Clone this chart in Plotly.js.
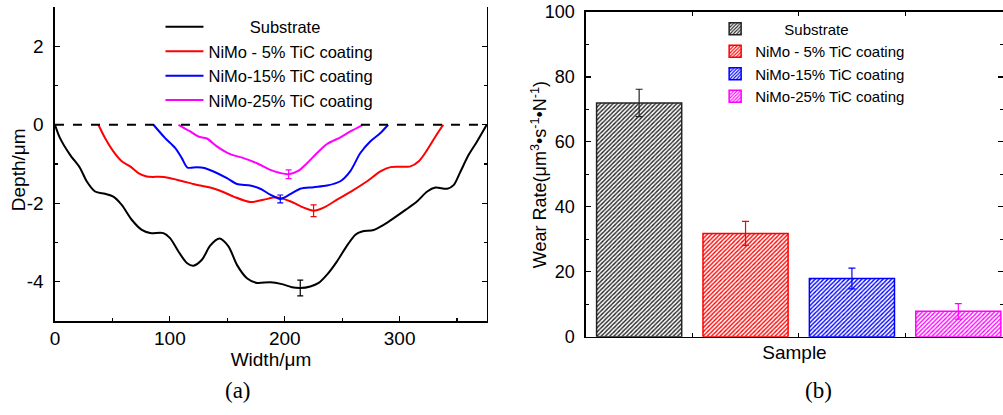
<!DOCTYPE html>
<html>
<head>
<meta charset="utf-8">
<script src="https://cdn.plot.ly/plotly-3.0.1.min.js"></script>
<style>
  html, body { margin: 0; padding: 0; background: #fff; overflow: hidden; }
  #chart { width: 1003px; height: 415px; }
</style>
</head>
<body>
<div id="chart"></div>
<script>
// ---------- (a) depth profiles ----------
const seriesNames = ['Substrate', 'NiMo - 5% TiC coating', 'NiMo-15% TiC coating', 'NiMo-25% TiC coating'];
const seriesColors = ['#000000', '#ff0000', '#0000ff', '#ff00ff'];

const substrateX = [0, 4.4, 13, 21.8, 27.6, 34.9, 43.6, 50.8, 58.1, 66.8, 75.6, 82.8, 94.4, 100.2, 107.5, 114.8, 120.5, 127.9, 135.1, 143.2, 151, 158.4, 167.1, 175.8, 187.4, 197.6, 206.3, 213.5, 222.3, 229.5, 236.8, 245.5, 254.2, 261.5, 267.3, 277.4, 286.1, 294.9, 305.1, 315.3, 324, 331.2, 341.4, 347.2, 353, 360.2, 367.5, 373.3, 375.7];
const substrateY = [0, -0.34, -0.76, -1.10, -1.44, -1.70, -1.76, -1.83, -2.04, -2.42, -2.68, -2.76, -2.76, -2.89, -3.23, -3.52, -3.59, -3.44, -3.08, -2.90, -3.10, -3.57, -3.91, -4.03, -4.01, -4.06, -4.14, -4.16, -4.12, -4.03, -3.82, -3.48, -3.08, -2.80, -2.72, -2.68, -2.55, -2.38, -2.17, -1.95, -1.70, -1.60, -1.63, -1.53, -1.19, -0.76, -0.42, -0.13, 0];

const tic5X = [37.8, 43.6, 50.8, 58.1, 65.4, 72.6, 79.9, 94.4, 106.1, 120.5, 126.4, 135.1, 143.8, 155.4, 170, 181.6, 193.2, 204.8, 216.4, 225.1, 233.9, 245.5, 260, 271.7, 283.3, 292, 309.4, 316.7, 324, 331.2, 337.9];
const tic5Y = [0, -0.34, -0.68, -0.93, -1.06, -1.23, -1.32, -1.33, -1.40, -1.51, -1.55, -1.60, -1.68, -1.83, -1.97, -1.91, -1.85, -1.95, -2.11, -2.19, -2.11, -1.91, -1.66, -1.44, -1.19, -1.08, -1.06, -0.93, -0.64, -0.30, 0];

const tic15X = [85.7, 95.9, 104.6, 110.4, 115.3, 123.5, 130, 138, 149.7, 158.4, 170, 178.7, 187.4, 196.1, 204.8, 213.5, 225.1, 236.8, 248.4, 257.1, 265.8, 274.6, 283.3, 290];
const tic15Y = [0, -0.34, -0.59, -0.85, -1.09, -1.08, -1.10, -1.19, -1.36, -1.51, -1.55, -1.63, -1.78, -1.89, -1.77, -1.63, -1.59, -1.55, -1.44, -1.18, -0.72, -0.42, -0.21, 0];

const tic25X = [107.5, 117.7, 124.9, 132.2, 140.9, 152.5, 164.1, 175.8, 187.4, 196.1, 203.4, 212.1, 219.4, 228.1, 236.8, 248.4, 257.1, 268];
const tic25Y = [0, -0.17, -0.30, -0.35, -0.55, -0.75, -0.85, -0.98, -1.15, -1.23, -1.26, -1.17, -0.98, -0.72, -0.49, -0.32, -0.17, 0];

// error bars on the profiles (one per curve)
const profErrX = [213.5, 225.1, 196.1, 203.4];
const profErrY = [-4.16, -2.19, -1.89, -1.26];
const profErrVal = [0.2, 0.15, 0.1, 0.11];

const depthTickVals = [-4, -2, 0, 2];
const depthTickText = ['-4', '-2', '0', '2'];
const zeroLevel = 0;

// ---------- (b) wear rate ----------
const samples = ['Substrate', 'NiMo - 5% TiC coating', 'NiMo-15% TiC coating', 'NiMo-25% TiC coating'];
const wearRate = [72.0, 31.8, 17.9, 7.8];
const wearErr = [4.2, 3.7, 3.2, 2.4];
const barColors = ['#222222', '#ff0000', '#0000ff', '#ff00ff'];

const FONT = 'Liberation Sans, Arial, sans-serif';
const profX = [substrateX, tic5X, tic15X, tic25X];
const profY = [substrateY, tic5Y, tic15Y, tic25Y];
const legendPad = ['\u00a0\u00a0\u00a0\u00a0\u00a0\u00a0\u00a0\u00a0\u00a0', '', '', ''];
const legendPad2 = ['\u00a0\u00a0\u00a0\u00a0\u00a0\u00a0\u00a0', '', '', ''];

const traces = [];
for (let i = 0; i < 4; i++) {
  traces.push({
    type: 'scatter', mode: 'lines', x: profX[i], y: profY[i],
    name: legendPad[i] + seriesNames[i],
    line: { color: seriesColors[i], width: 2, shape: 'spline', smoothing: 0.8 },
    xaxis: 'x', yaxis: 'y', legend: 'legend', hoverinfo: 'skip'
  });
}
for (let i = 0; i < 4; i++) {
  traces.push({
    type: 'scatter', mode: 'markers', x: [profErrX[i]], y: [profErrY[i]],
    marker: { size: 1, color: seriesColors[i], opacity: 0 },
    error_y: { type: 'data', array: [profErrVal[i]], color: seriesColors[i], thickness: 1.2, width: 3 },
    showlegend: false, xaxis: 'x', yaxis: 'y', hoverinfo: 'skip'
  });
}
for (let i = 0; i < 4; i++) {
  traces.push({
    type: 'bar', x: [samples[i]], y: [wearRate[i]], width: 0.8,
    name: legendPad2[i] + samples[i],
    marker: {
      color: '#ffffff',
      line: { color: barColors[i], width: 1.5 },
      pattern: { shape: '/', fgcolor: barColors[i], bgcolor: '#ffffff', size: 3, solidity: 0.45, fillmode: 'replace' }
    },
    error_y: { type: 'data', array: [wearErr[i]], color: barColors[i], thickness: 1.2, width: 3.5 },
    xaxis: 'x2', yaxis: 'y2', legend: 'legend2', hoverinfo: 'skip'
  });
}

const axCommon = {
  showline: true, linecolor: '#000', linewidth: 1.5, showgrid: false, zeroline: false,
  ticks: 'inside', ticklen: 5, tickwidth: 1.2, tickcolor: '#000',
  tickfont: { family: FONT, size: 19, color: '#000' }
};

const layout = {
  width: 1003, height: 415,
  margin: { l: 0, r: 0, t: 0, b: 0, pad: 0 },
  paper_bgcolor: '#fff', plot_bgcolor: 'rgba(0,0,0,0)',
  font: { family: FONT, color: '#000' },
  barmode: 'overlay',
  showlegend: true,
  xaxis: Object.assign({}, axCommon, {
    domain: [0.0548, 0.4855], range: [0, 376], anchor: 'y',
    tick0: 0, dtick: 100, mirror: false, ticklabelstandoff: 0,
    minor: { ticks: 'inside', ticklen: 3, dtick: 50, tickcolor: '#000', showgrid: false },
    title: { text: 'Width/μm', font: { family: FONT, size: 19 }, standoff: 0 }
  }),
  yaxis: Object.assign({}, axCommon, {
    domain: [0.2265, 0.9831], range: [-5, 3], anchor: 'x',
    tickmode: 'array', tickvals: depthTickVals, ticktext: depthTickText,
    mirror: 'ticks', ticklabelstandoff: 6,
    minor: { ticks: 'inside', ticklen: 3, dtick: 1, tickcolor: '#000', showgrid: false }
  }),
  xaxis2: Object.assign({}, axCommon, {
    domain: [0.5842, 1.0], range: [-0.5, 3.42], anchor: 'y2', type: 'category',
    showticklabels: false, tickson: 'boundaries', mirror: 'ticks', ticklen: 4,
    title: { text: 'Sample', font: { family: FONT, size: 19 }, standoff: 8 }
  }),
  yaxis2: Object.assign({}, axCommon, {
    domain: [0.1887, 0.9711], range: [0, 100], anchor: 'x2',
    tick0: 0, dtick: 20, mirror: 'ticks', ticklabelstandoff: 6, tickfont: { family: FONT, size: 18, color: '#000' },
    minor: { ticks: 'inside', ticklen: 3, dtick: 10, tickcolor: '#000', showgrid: false }
  }),
  legend: {
    x: 0.160, y: 0.977, xanchor: 'left', yanchor: 'top',
    bgcolor: 'rgba(0,0,0,0)', borderwidth: 0,
    font: { family: FONT, size: 16.5, color: '#000' }, itemwidth: 38, tracegroupgap: 0
  },
  legend2: {
    x: 0.713, y: 0.970, xanchor: 'left', yanchor: 'top',
    bgcolor: 'rgba(0,0,0,0)', borderwidth: 0,
    font: { family: FONT, size: 15, color: '#000' }, tracegroupgap: 0
  },
  shapes: [{
    type: 'line', xref: 'x domain', yref: 'y', x0: 0, x1: 1, y0: zeroLevel, y1: zeroLevel,
    line: { color: '#000', width: 2, dash: 'dash' }
  }],
  annotations: [
    { text: 'Depth/μm', xref: 'paper', yref: 'paper',
      x: 0.018, y: 0.59, xanchor: 'center', yanchor: 'middle', textangle: -90, showarrow: false,
      font: { family: FONT, size: 19, color: '#000' } },
    { text: 'Wear Rate(μm<sup>3</sup>•s<sup>-1</sup>•N<sup>-1</sup>)', xref: 'paper', yref: 'paper',
      x: 0.5374, y: 0.578, xanchor: 'center', yanchor: 'middle', textangle: -90, showarrow: false,
      font: { family: FONT, size: 18, color: '#000' } },
    { text: '(a)', xref: 'paper', yref: 'paper', x: 0.2368, y: 0.0586, xanchor: 'center', yanchor: 'middle', showarrow: false,
      font: { family: 'Liberation Serif, Times New Roman, serif', size: 23, color: '#000' } },
    { text: '(b)', xref: 'paper', yref: 'paper', x: 0.8156, y: 0.0586, xanchor: 'center', yanchor: 'middle', showarrow: false,
      font: { family: 'Liberation Serif, Times New Roman, serif', size: 23, color: '#000' } }
  ]
};

Plotly.newPlot('chart', traces, layout, { staticPlot: true, displayModeBar: false });
</script>
</body>
</html>
